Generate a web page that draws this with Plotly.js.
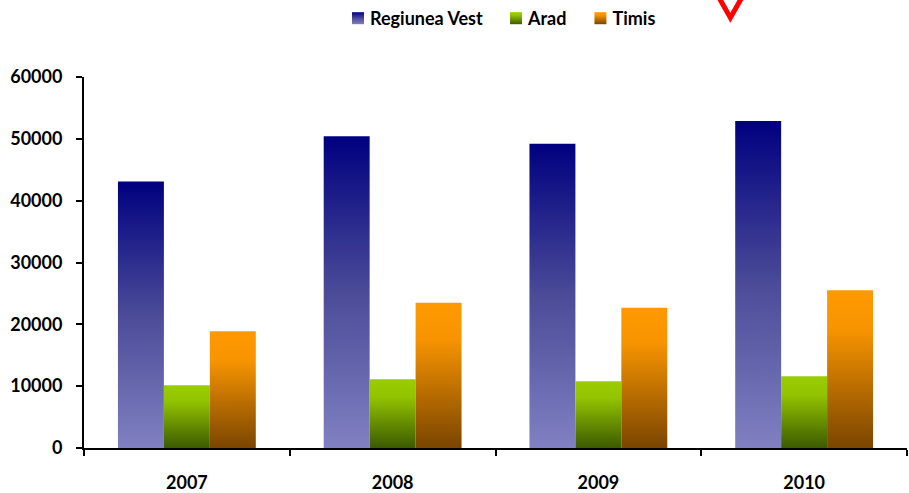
<!DOCTYPE html>
<html>
<head>
<meta charset="utf-8">
<script src="https://cdn.plot.ly/plotly-3.0.1.min.js"></script>
<style>
html,body{margin:0;padding:0;background:#fff;}
#chart{width:909px;height:493px;}
</style>
</head>
<body>
<div id="chart"></div>
<script>
var years = ['2007', '2008', '2009', '2010'];
var seriesNames = ['Regiunea Vest', 'Arad', 'Timis'];
var regiuneaVest = [43100, 50400, 49200, 52900];
var arad = [10150, 11100, 10800, 11600];
var timis = [18900, 23500, 22700, 25500];
var yTicks = [0, 10000, 20000, 30000, 40000, 50000, 60000];

var baseColors = ['#3f3fa0', '#6f9600', '#c47300'];
var gradients = [
  [[0, '#000080'], [0.5, '#4b4b98'], [1, '#8080c2']],
  [[0, '#99cc00'], [0.25, '#93c400'], [1, '#3c5a00']],
  [[0, '#ff9900'], [0.25, '#f79400'], [1, '#7a4500']]
];

var font = 'Lato, "Liberation Sans", Arial, sans-serif';
var values = [regiuneaVest, arad, timis];
var traces = values.map(function (v, i) {
  return {
    type: 'bar',
    name: seriesNames[i],
    x: years,
    y: v,
    marker: {color: baseColors[i], line: {width: 0}},
    hoverinfo: 'skip'
  };
});

var layout = {
  width: 909,
  height: 493,
  margin: {l: 84, r: 2, t: 77, b: 45},
  paper_bgcolor: '#ffffff',
  plot_bgcolor: '#ffffff',
  barmode: 'group',
  bargap: 0.33,
  bargroupgap: 0,
  font: {family: font, size: 18, color: '#000000', weight: 'bold'},
  showlegend: true,
  legend: {
    orientation: 'h',
    x: 0.5, xanchor: 'center', xref: 'paper',
    y: 1, yanchor: 'top', yref: 'container',
    font: {family: font, size: 18, color: '#000', weight: 'bold'},
    itemwidth: 30,
    tracegroupgap: 0,
    bgcolor: 'rgba(0,0,0,0)'
  },
  xaxis: {
    type: 'category',
    showgrid: false,
    zeroline: false,
    showline: true,
    linecolor: '#000',
    linewidth: 2,
    ticks: 'outside',
    tickson: 'boundaries',
    ticklen: 6,
    tickwidth: 2,
    tickcolor: '#000',
    ticklabelstandoff: 17,
    tickfont: {family: font, size: 18, weight: 'bold'}
  },
  yaxis: {
    range: [0, 60000],
    tickvals: yTicks,
    ticktext: yTicks.map(String),
    showgrid: false,
    zeroline: false,
    showline: true,
    linecolor: '#000',
    linewidth: 2,
    ticks: 'outside',
    ticklen: 6,
    tickwidth: 2,
    tickcolor: '#000',
    ticklabelstandoff: 10,
    tickfont: {family: font, size: 18, weight: 'bold'}
  },
  shapes: [{
    type: 'path', xref: 'paper', yref: 'paper',
    path: 'M 0.7715 1.2141 L 0.7854 1.1598 L 0.7993 1.2141',
    line: {color: '#ff0000', width: 5}
  }]
};

function applyGradients(gd) {
  var svg = gd.querySelector('svg.main-svg');
  var ns = 'http://www.w3.org/2000/svg';
  var defs = svg.querySelector('defs');
  if (!defs) { defs = document.createElementNS(ns, 'defs'); svg.insertBefore(defs, svg.firstChild); }
  gradients.forEach(function (g, i) {
    var lg = document.createElementNS(ns, 'linearGradient');
    lg.setAttribute('id', 'barGrad' + i);
    lg.setAttribute('x1', '0'); lg.setAttribute('y1', '0');
    lg.setAttribute('x2', '0'); lg.setAttribute('y2', '1');
    g.forEach(function (s) {
      var st = document.createElementNS(ns, 'stop');
      st.setAttribute('offset', s[0]);
      st.setAttribute('stop-color', s[1]);
      lg.appendChild(st);
    });
    defs.appendChild(lg);
  });
  var traceGroups = gd.querySelectorAll('g.barlayer g.trace.bars');
  traceGroups.forEach(function (tg, i) {
    tg.querySelectorAll('path').forEach(function (p) {
      p.style.fill = 'url(#barGrad' + i + ')';
    });
  });
  var legendTraces = gd.querySelectorAll('g.legend g.traces');
  legendTraces.forEach(function (lt, i) {
    lt.querySelectorAll('g.legendpoints path').forEach(function (p) {
      p.setAttribute('d', 'M-6,-6h12v12h-12z');
      p.style.fill = 'url(#barGrad' + i + ')';
      p.style.stroke = 'none';
    });
    var pts = lt.querySelector('g.legendpoints');
    if (pts) pts.setAttribute('transform', 'translate(8,0)');
  });
}

Plotly.newPlot('chart', traces, layout, {displayModeBar: false, staticPlot: true}).then(function (gd) {
  applyGradients(gd);
});
</script>
</body>
</html>
